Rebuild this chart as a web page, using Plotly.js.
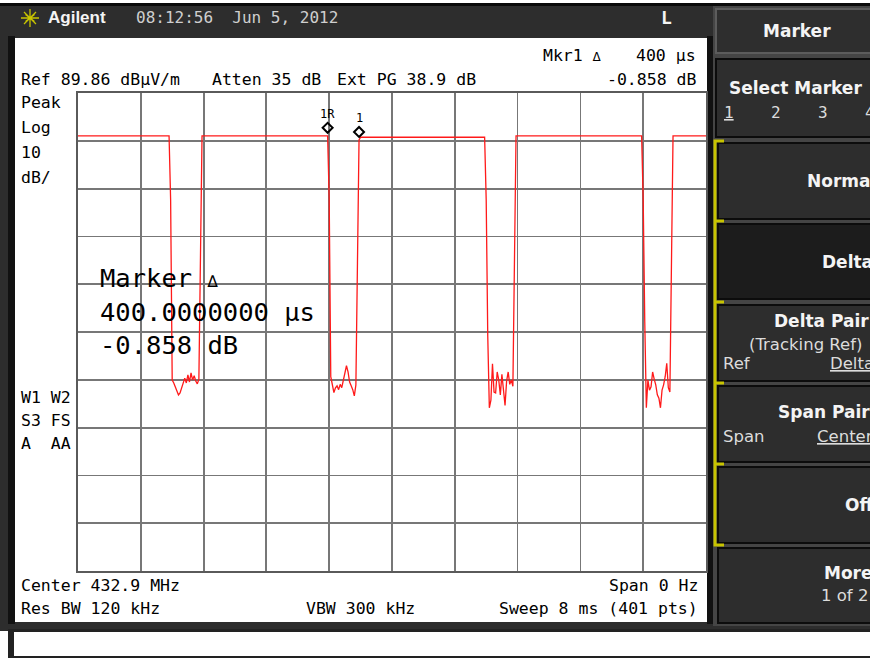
<!DOCTYPE html>
<html><head><meta charset="utf-8">
<script src="https://cdn.plot.ly/plotly-3.0.1.min.js"></script>
<style>html,body{margin:0;padding:0;background:#fff;overflow:hidden}#chart{width:870px;height:658px}</style>
</head><body><div id="chart"></div>
<script>
// ---------------- data ----------------
const refLevel = 89.86;          // dBµV/m at top graticule
const dbPerDiv = 10;
const sweepMs = 8;
const sweepPoints = 401;
const plateauLevels = [80.9, 80.9, 80.6, 80.9, 80.9];   // on-levels between the gaps
const gapStartMs = [1.16, 3.18, 5.18, 7.18];            // last on-sample before each gap
const gapFallLevels = [[67.5], [67.7], [67.5, 38.9], [67.5, 42.0]];
const gapNoiseLevels = [
  [29.8, 29.2, 28.4, 27.5, 26.7, 27.1, 28.0, 29.0, 30.2, 29.2, 30.9, 29.4, 31.3, 29.8, 30.7, 29.6, 29.0, 30.0],
  [30.5, 28.9, 27.2, 28.2, 28.6, 27.8, 28.9, 28.2, 29.8, 30.7, 32.8, 31.5, 29.4, 28.6, 27.8, 26.5, 28.8],
  [24.0, 25.6, 33.2, 27.3, 27.1, 31.5, 29.8, 26.7, 31.0, 28.0, 24.5, 29.6, 31.5, 28.9, 29.8, 28.5],
  [24.0, 29.8, 27.7, 28.4, 31.5, 30.0, 28.8, 26.7, 26.0, 24.0, 27.7, 28.8, 30.5, 33.3, 28.2, 27.3]
];
const gapRiseLevels = [[54.3], [54.3, 80.04], [54.3], [53.5]];
const markerRefMs = 3.18, markerRefLevel = 80.9;
const markerMs = 3.58, markerDeltaDb = -0.858;

// ---------------- build trace ----------------
const dt = sweepMs / (sweepPoints - 1);
const tt = [0], yy = [plateauLevels[0]];
gapStartMs.forEach((t0, g) => {
  tt.push(t0); yy.push(plateauLevels[g]);
  const seq = gapFallLevels[g].concat(gapNoiseLevels[g], gapRiseLevels[g]);
  seq.forEach((v, i) => { tt.push(+(t0 + (i + 1) * dt).toFixed(4)); yy.push(v); });
  tt.push(+(t0 + (seq.length + 1) * dt).toFixed(4)); yy.push(plateauLevels[g + 1]);
});
tt.push(sweepMs); yy.push(plateauLevels[plateauLevels.length - 1]);

// ---------------- geometry helpers ----------------
const L = 78, R = 706, T = 93, B = 571;
const X = p => (p - L) / (R - L);
const Y = p => (B - p) / (B - T);
const MONO = 'DejaVu Sans Mono';
const SANS = 'DejaVu Sans';

function rect(x0, y0, x1, y1, fill, line, lw, layer) {
  return {type: 'rect', xref: 'paper', yref: 'paper', x0: X(x0), x1: X(x1), y0: Y(y1), y1: Y(y0),
    fillcolor: fill, line: {color: line || fill, width: lw || 0}, layer: layer || 'below'};
}
function txt(text, x, y, size, color, opts, family) {
  opts = opts || {};
  return Object.assign({text: text, xref: 'paper', yref: 'paper', x: X(x), y: Y(y),
    xanchor: 'left', yanchor: 'middle', showarrow: false,
    font: {family: family || MONO, size: size, color: color}}, opts);
}
const nb = s => s.replace(/ /g, '\u00a0');
function pth(pts) { // pts: array of ['M'|'L', px, py]
  return pts.map(p => p[0] + X(p[1]) + ',' + Y(p[2])).join(' ');
}

const shapes = [
  rect(0, 0, 870, 658, '#ffffff'),
  rect(0, 3, 870, 630, '#2d2d2d'),
  rect(0, 3, 870, 6, '#0a0a0a'),
  rect(8, 36, 15, 624, '#111111'),
  rect(15, 38, 707, 622, '#ffffff'),
  rect(707, 36, 713, 624, '#111111'),
  // right softkey panel
  rect(713, 6, 870, 628, '#454545'),
  rect(716, 9, 872, 53, '#2e2e2e', '#5c5c5c', 2),
  rect(716, 59, 872, 137, '#2e2e2e', '#0c0c0c', 2),
  rect(718, 143, 872, 219, '#2d2d2d', '#0c0c0c', 2),
  rect(718, 224, 872, 299, '#1c1c1c', '#0c0c0c', 2),
  rect(718, 305, 872, 381, '#2d2d2d', '#0c0c0c', 2),
  rect(718, 386, 872, 462, '#2d2d2d', '#0c0c0c', 2),
  rect(718, 467, 872, 543, '#2d2d2d', '#0c0c0c', 2),
  rect(718, 548, 872, 623, '#2d2d2d', '#0c0c0c', 2),
  // bottom status line
  rect(0, 626, 870, 631, '#2d2d2d'),
  rect(8, 629, 870, 658, '#222222'),
  rect(14, 632, 870, 656, '#ffffff'),
  // yellow bracket
  {type: 'path', xref: 'paper', yref: 'paper', layer: 'above',
   path: pth([['M', 724, 141], ['L', 715, 141], ['L', 715, 545], ['L', 724, 545],
              ['M', 715, 221], ['L', 724, 221], ['M', 715, 302], ['L', 724, 302],
              ['M', 715, 383], ['L', 724, 383], ['M', 715, 464], ['L', 724, 464]]),
   line: {color: '#c8c400', width: 3}},
  // Agilent logo starburst
  {type: 'path', xref: 'paper', yref: 'paper', layer: 'above',
   path: pth([['M', 21, 18], ['L', 39, 18], ['M', 30, 9], ['L', 30, 27],
              ['M', 24, 12], ['L', 36, 24], ['M', 24, 24], ['L', 36, 12],
              ['M', 25.5, 14.5], ['L', 34.5, 21.5], ['M', 25.5, 21.5], ['L', 34.5, 14.5]]),
   line: {color: '#c8c400', width: 1.3}},
  // marker diamonds (pixel-sized, anchored on the trace points)
  {type: 'path', xref: 'x', yref: 'y', xsizemode: 'pixel', ysizemode: 'pixel',
   xanchor: markerRefMs, yanchor: markerRefLevel, path: 'M0,3 L5,8 L0,13 L-5,8 Z',
   line: {color: '#000', width: 2}, fillcolor: 'rgba(0,0,0,0)', layer: 'above'},
  {type: 'path', xref: 'x', yref: 'y', xsizemode: 'pixel', ysizemode: 'pixel',
   xanchor: markerMs, yanchor: markerRefLevel + markerDeltaDb, path: 'M0,3 L5,8 L0,13 L-5,8 Z',
   line: {color: '#000', width: 2}, fillcolor: 'rgba(0,0,0,0)', layer: 'above'}
];

const W = '#f4f4f4', G = '#dcdcdc', K = '#000000';
const tri = '<span style="font-size:13px">\u2206</span>';
const triBig = '<span style="font-size:17px">\u2206</span>';
const annotations = [
  txt('<b>Agilent</b>', 46, 18, 17, W, {}, 'Liberation Sans'),
  txt(nb('08:12:56  Jun 5, 2012'), 134, 18, 16, '#cfcfcf'),
  txt('<b>L</b>', 659, 18, 18, W),
  txt(nb('Mkr1 ') + tri, 541, 56, 16.5, K),
  txt(nb('400 µs'), 698, 56, 16.5, K, {xanchor: 'right'}),
  txt(nb('Ref 89.86 dBµV/m'), 19, 79, 16.5, K),
  txt(nb('Atten 35 dB'), 210, 79, 16.5, K),
  txt(nb('Ext PG 38.9 dB'), 335, 79, 16.5, K),
  txt(nb('-0.858 dB'), 698, 79, 16.5, K, {xanchor: 'right'}),
  txt('Peak', 19, 102, 16.5, K),
  txt('Log', 19, 127, 16.5, K),
  txt('10', 19, 152, 16.5, K),
  txt('dB/', 19, 177, 16.5, K),
  txt(nb('W1 W2'), 19, 397, 16.5, K),
  txt(nb('S3 FS'), 19, 420, 16.5, K),
  txt(nb('A  AA'), 19, 443, 16.5, K),
  txt(nb('Marker ') + triBig, 98, 278, 25.5, K),
  txt(nb('400.0000000 µs'), 98, 312, 25.5, K),
  txt(nb('-0.858 dB'), 98, 345, 25.5, K),
  txt(nb('Center 432.9 MHz'), 19, 585, 16.5, K),
  txt(nb('Span 0 Hz'), 700, 585, 16.5, K, {xanchor: 'right'}),
  txt(nb('Res BW 120 kHz'), 19, 608, 16.5, K),
  txt(nb('VBW 300 kHz'), 304, 608, 16.5, K),
  txt(nb('Sweep 8 ms (401 pts)'), 700, 608, 16.5, K, {xanchor: 'right'}),
  // marker labels
  {text: '1R', xref: 'x', yref: 'y', x: markerRefMs, y: markerRefLevel, yshift: 22, showarrow: false,
   xanchor: 'center', yanchor: 'middle', font: {family: MONO, size: 12, color: K}},
  {text: '1', xref: 'x', yref: 'y', x: markerMs, y: markerRefLevel + markerDeltaDb, yshift: 22, showarrow: false,
   xanchor: 'center', yanchor: 'middle', font: {family: MONO, size: 12, color: K}},
  // softkeys
  txt('<b>Marker</b>', 797, 31, 17, W, {xanchor: 'center'}, SANS),
  txt(nb('<b>Select Marker</b>'), 727, 88, 17, W, {}, SANS),
  txt('<u>1</u>', 722, 112, 16, G),
  txt('2', 769, 112, 16, G),
  txt('3', 816, 112, 16, G),
  txt('4', 863, 112, 16, G),
  txt('<b>Normal</b>', 805, 181, 17, W, {}, SANS),
  txt('<b>Delta</b>', 820, 262, 17, W, {}, SANS),
  txt(nb('<b>Delta Pair</b>'), 772, 321, 17, W, {}, SANS),
  txt(nb('(Tracking Ref)'), 747, 344, 16.5, G, {}, SANS),
  txt('Ref', 721, 363, 16.5, G, {}, SANS),
  txt('<u>Delta</u>', 828, 363, 16.5, G, {}, SANS),
  txt(nb('<b>Span Pair</b>'), 776, 412, 17, W, {}, SANS),
  txt('Span', 721, 436, 16.5, G, {}, SANS),
  txt('<u>Center</u>', 815, 436, 16.5, G, {}, SANS),
  txt('<b>Off</b>', 843, 505, 17, W, {}, SANS),
  txt('<b>More</b>', 822, 573, 17, W, {}, SANS),
  txt(nb('1 of 2'), 819, 595, 16.5, G, {}, SANS)
];

const trace = {x: tt, y: yy, type: 'scatter', mode: 'lines', line: {color: '#ff1a1a', width: 1.3},
  hoverinfo: 'skip', cliponaxis: true};

const layout = {
  width: 870, height: 658,
  margin: {l: L, r: 870 - R, t: T, b: 658 - B, pad: 0},
  paper_bgcolor: '#ffffff', plot_bgcolor: '#ffffff',
  showlegend: false,
  xaxis: {range: [0, sweepMs], tick0: 0, dtick: sweepMs / 10, showticklabels: false, ticks: '',
    showgrid: true, gridcolor: '#777777', gridwidth: 1.8, zeroline: false,
    showline: true, mirror: true, linecolor: '#5a5a5a', linewidth: 2, fixedrange: true},
  yaxis: {range: [refLevel - 10 * dbPerDiv, refLevel], tick0: refLevel, dtick: dbPerDiv, showticklabels: false, ticks: '',
    showgrid: true, gridcolor: '#777777', gridwidth: 1.8, zeroline: false,
    showline: true, mirror: true, linecolor: '#5a5a5a', linewidth: 2, fixedrange: true},
  shapes: shapes,
  annotations: annotations
};

Plotly.newPlot('chart', [trace], layout, {displayModeBar: false, staticPlot: true});
</script></body></html>
